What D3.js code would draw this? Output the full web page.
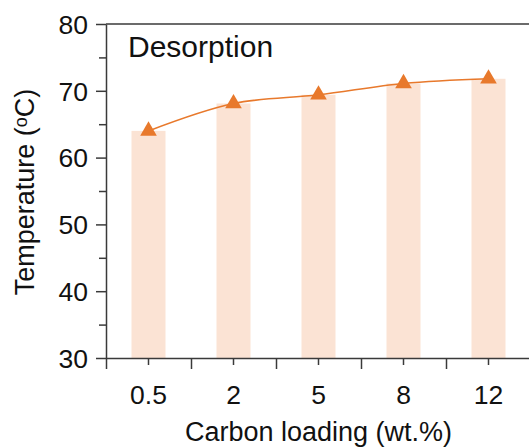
<!DOCTYPE html>
<html>
<head>
<meta charset="utf-8">
<script src="https://cdn.jsdelivr.net/npm/d3@7"></script>
<style>
  html, body { margin: 0; padding: 0; background: #fff; }
  svg { display: block; font-family: "Liberation Sans", Arial, sans-serif; }
</style>
</head>
<body>
<svg id="chart" width="529" height="448"></svg>
<script>
// Desorption temperature vs. carbon loading
const categories = ["0.5", "2", "5", "8", "12"];
const temperatures = [64.0, 68.1, 69.4, 71.1, 71.8];
const yTicks = [30, 40, 50, 60, 70, 80];
const yMinorTicks = [35, 45, 55, 65, 75];

const svg = d3.select("#chart");
const margin = { left: 106, top: 24, right: -2, bottom: 90 };
const width = 529 - margin.left - margin.right;
const height = 448 - margin.top - margin.bottom;

const axisColor = "#3a3a3a";
const barColor = "#fbe3d4";
const lineColor = "#e8792c";

const g = svg.append("g").attr("transform", `translate(${margin.left},${margin.top})`);

const x = d3.scaleBand().domain(categories).range([0, width]).paddingInner(0.6).paddingOuter(0.3);
const xOuter = d3.scaleBand().domain(categories).range([0, width]).padding(0);
const y = d3.scaleLinear().domain([30, 80]).range([height, 0]);

// Bars
g.selectAll("rect.bar")
  .data(temperatures)
  .join("rect")
  .attr("class", "bar")
  .attr("x", (d, i) => x(categories[i]))
  .attr("y", d => y(d))
  .attr("width", x.bandwidth())
  .attr("height", d => height - y(d))
  .attr("fill", barColor);

// Trend line
const cx = (d, i) => xOuter(categories[i]) + xOuter.bandwidth() / 2;
g.append("path")
  .datum(temperatures)
  .attr("fill", "none")
  .attr("stroke", lineColor)
  .attr("stroke-width", 1.6)
  .attr("d", d3.line().x(cx).y(d => y(d)).curve(d3.curveCatmullRom.alpha(0.5)));

// Triangle markers
g.selectAll("path.marker")
  .data(temperatures)
  .join("path")
  .attr("class", "marker")
  .attr("transform", (d, i) => `translate(${cx(d, i)},${y(d)})`)
  .attr("d", d3.symbol().type(d3.symbolTriangle).size(120))
  .attr("fill", lineColor);

// Y axis: major ticks with labels, minor ticks without
const yAxis = g.append("g")
  .call(d3.axisLeft(y).tickValues(yTicks).tickSize(10).tickSizeOuter(0).tickPadding(8));
yAxis.selectAll("text").attr("font-size", 26.5).attr("fill", "#111").attr("dy", "0.35em");
g.append("g")
  .call(d3.axisLeft(y).tickValues(yMinorTicks).tickSize(7).tickFormat(""))
  .select(".domain").remove();

// X axis: short ticks at categories, long ticks at band edges
const xAxis = g.append("g")
  .attr("transform", `translate(0,${height})`)
  .call(d3.axisBottom(xOuter).tickSize(7).tickSizeOuter(0).tickPadding(20));
xAxis.selectAll("text").attr("font-size", 26.5).attr("fill", "#111");
const edges = d3.range(categories.length).map(i => xOuter.step() * i);
const xEdge = d3.scaleLinear().domain([0, width]).range([0, width]);
g.append("g")
  .attr("transform", `translate(0,${height})`)
  .call(d3.axisBottom(xEdge).tickValues(edges).tickSize(11).tickFormat(""))
  .select(".domain").remove();

// Top frame line
g.append("line")
  .attr("x1", 0).attr("x2", width)
  .attr("y1", 0).attr("y2", 0)
  .attr("stroke", axisColor).attr("stroke-width", 1.5);

svg.selectAll(".domain, .tick line").attr("stroke", axisColor).attr("stroke-width", 1.5);

// Panel label
g.append("text")
  .attr("x", 22).attr("y", 33)
  .attr("font-size", 30)
  .attr("fill", "#111")
  .text("Desorption");

// Axis titles
svg.append("text")
  .attr("x", 318.5)
  .attr("y", 441)
  .attr("text-anchor", "middle")
  .attr("font-size", 27)
  .attr("fill", "#111")
  .text("Carbon loading (wt.%)");

const yl = svg.append("text")
  .attr("transform", "translate(34,192) rotate(-90)")
  .attr("text-anchor", "middle")
  .attr("font-size", 27)
  .attr("fill", "#111");
yl.append("tspan").text("Temperature (");
yl.append("tspan").attr("font-size", 18).attr("dy", -7).text("o");
yl.append("tspan").attr("dy", 7).text("C)");
</script>
</body>
</html>
